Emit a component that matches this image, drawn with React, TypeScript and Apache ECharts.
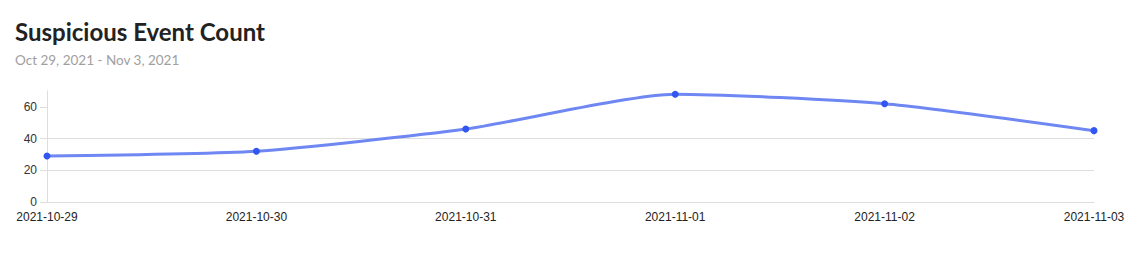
import React, { useEffect, useRef } from "react";
import * as echarts from "echarts";

const categories = ["2021-10-29", "2021-10-30", "2021-10-31", "2021-11-01", "2021-11-02", "2021-11-03"];
const eventCounts = [29, 32, 46, 68, 62, 45];
const yTicks = { min: 0, max: 70, interval: 20 };
const yTickValues = [0, 20, 40, 60];

export default function App() {
  const ref = useRef<HTMLDivElement>(null);
  useEffect(() => {
    const chart = echarts.init(ref.current!, null, { renderer: "svg" });
    chart.setOption({
      animation: false,
      title: {
        text: "Suspicious Event Count",
        subtext: "Oct 29, 2021 - Nov 3, 2021",
        left: 10,
        top: 14,
        itemGap: 10,
        textStyle: { fontFamily: "Lato", fontSize: 24, fontWeight: "bold", color: "#222" },
        subtextStyle: { fontFamily: "Lato", fontSize: 13.5, color: "#a0a0a0" },
      },
      grid: { left: 47, right: 51, top: 91, bottom: 76 },
      xAxis: {
        type: "category",
        data: categories,
        boundaryGap: false,
        axisLine: { lineStyle: { color: "#ddd" } },
        axisTick: { show: false },
        axisLabel: { color: "#222", fontFamily: "Arial", fontSize: 12, margin: 9, interval: 0 },
      },
      yAxis: {
        type: "value",
        min: yTicks.min,
        max: yTicks.max,
        interval: yTicks.interval,
        axisLine: { show: true, lineStyle: { color: "#ddd" } },
        axisTick: { show: true, length: 7, customValues: yTickValues, lineStyle: { color: "#ddd" } },
        splitLine: { showMaxLine: false, lineStyle: { color: "#ddd" } },
        axisLabel: { color: "#333", fontFamily: "Arial", fontSize: 12, margin: 10, showMaxLabel: false },
      },
      series: [
        {
          type: "line",
          data: eventCounts,
          smooth: 0.2,
          symbol: "circle",
          symbolSize: 7,
          lineStyle: { color: "#6e87f2", width: 3 },
          itemStyle: { color: "#3156f2" },
        },
      ],
    });
    return () => chart.dispose();
  }, []);
  return <div ref={ref} style={{ width: 1145, height: 278, position: "absolute", left: 0, top: 0 }} />;
}
